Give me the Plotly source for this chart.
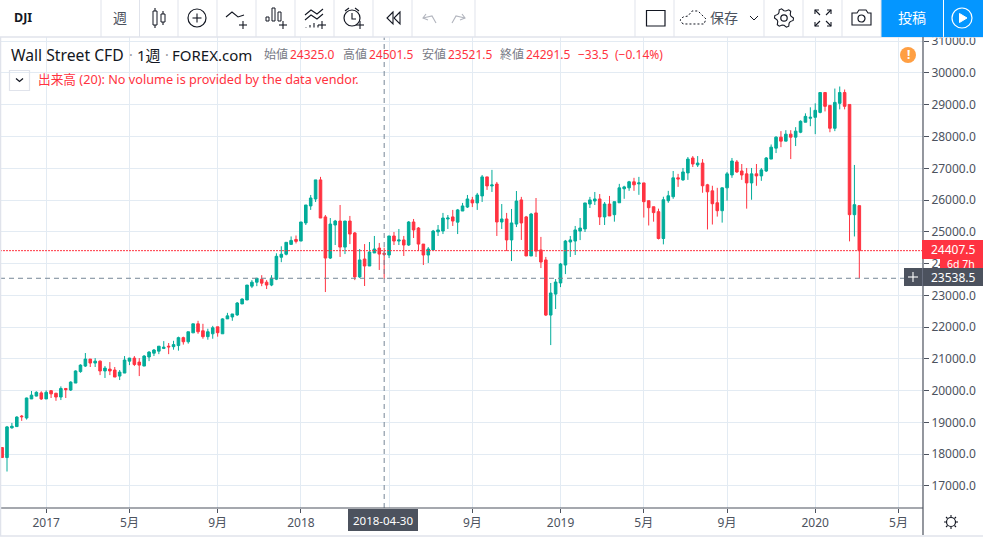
"""Weekly DJI CFD candles in a TradingView-like frame."""

import math

import pandas as pd
import plotly.graph_objects as go

W, H = 983, 541
PLOT_RIGHT, PLOT_TOP, PLOT_BOTTOM = 923, 37, 508

GREEN = "#02ac9a"
RED = "#ff3341"
TEXT = "#4c525e"
GRID = "#e3ebf3"
EDGE = "#e0e3eb"
DARK = "#4c525e"
BLUE = "#0496ff"

FIRST_WEEK = "2016-10-31"

opens = [
    18210, 17895, 18830, 18870, 19200, 19140, 19740, 19830, 19930, 19740,
    20000, 19920, 19800, 20070, 20020, 20240, 20600, 20775, 20995, 20870,
    20930, 20620, 20680, 20650, 20460, 20555, 20930, 21025, 20900, 20775,
    21060, 21180, 21245, 21330, 21400, 21385, 21420, 21670, 21540, 21820,
    22105, 21885, 21700, 21790, 22010, 21790, 22260, 22320, 22385, 22730,
    22855, 23290, 23415, 23510, 23415, 23325, 23510, 24200, 24295, 24605,
    24760, 24710, 25280, 25815, 26035, 26635, 25470, 24175, 25215, 25340,
    24520, 25340, 24965, 23580, 24145, 23925, 24335, 24490, 24325, 24270,
    24870, 24710, 24745, 24585, 25310, 25120, 24615, 24270, 24430, 25000,
    25025, 25405, 25470, 25305, 25655, 25780, 26005, 25910, 26130, 26730,
    26445, 26505, 25310, 25405, 24745, 25245, 26005, 25470, 24240, 25595,
    24430, 24115, 22380, 23040, 23390, 23955, 24680, 24710, 25025, 25090,
    25875, 25970, 26035, 25470, 25875, 25540, 25915, 26355, 26385, 26575,
    26510, 26540, 25980, 25790, 25635, 24790, 25980, 26105, 26700, 26635,
    26855, 27325, 27105, 27165, 26480, 26290, 25915, 25665, 26385, 26790,
    27200, 26915, 26825, 26540, 26825, 26760, 26915, 27290, 27635, 27980,
    27855, 28075, 27980, 28135, 28450, 28575, 28605, 28760, 29385, 28980,
    28260, 29045, 29385, 29010, 25540, 25825,
]
highs = [
    18210, 18890, 18985, 19195, 19235, 19780, 19990, 19980, 19980, 20010,
    20020, 19930, 20135, 20070, 20295, 20640, 20830, 21185, 20995, 21025,
    20950, 20775, 20900, 20745, 20650, 21090, 21035, 21090, 21025, 21120,
    21245, 21310, 21400, 21560, 21500, 21570, 21700, 21700, 21855, 22105,
    22200, 22105, 21950, 22040, 22010, 22280, 22450, 22415, 22790, 22905,
    23325, 23480, 23540, 23635, 23480, 23635, 24325, 24545, 24670, 24855,
    24885, 25310, 25845, 26160, 26635, 26730, 25530, 25435, 25375, 25845,
    25340, 25500, 24995, 24460, 24615, 24680, 24870, 24650, 24501.5, 24870,
    24995, 25090, 24870, 25340, 25405, 25150, 24615, 24520, 25060, 25215,
    25595, 25530, 25690, 25720, 25910, 26160, 26100, 26225, 26790, 26730,
    26950, 26570, 25875, 25595, 25720, 26285, 26100, 25500, 25595, 26065,
    24840, 24210, 23390, 23515, 24020, 24745, 24870, 25185, 25435, 25910,
    26100, 26255, 26190, 25940, 26130, 25950, 26510, 26450, 26605, 26700,
    26730, 26540, 25980, 25790, 25730, 26105, 26290, 26915, 26825, 27010,
    27355, 27385, 27385, 27290, 26510, 26450, 26385, 26400, 26885, 27325,
    27260, 27135, 27010, 27010, 27135, 27010, 27355, 27750, 28010, 28170,
    28200, 28200, 28295, 28510, 28730, 28920, 29045, 29385, 29385, 28980,
    29510, 29575, 29480, 29010, 27105, 25825,
]
lows = [
    17895, 17455, 18805, 18860, 19050, 19090, 19740, 19820, 19710, 19740,
    19770, 19680, 19705, 19770, 19990, 20240, 20565, 20745, 20745, 20745,
    20490, 20400, 20490, 20430, 20335, 20555, 20805, 20775, 20460, 20775,
    20930, 21090, 21150, 21310, 21150, 21290, 21260, 21450, 21480, 21820,
    21790, 21635, 21605, 21635, 21700, 21790, 22260, 22200, 22355, 22730,
    22855, 23230, 23290, 23290, 23200, 23290, 23480, 24045, 24260, 24605,
    24635, 24710, 25215, 25690, 25940, 25435, 23105, 24145, 24585, 24210,
    24300, 24615, 23480, 23545, 23295, 23925, 24335, 23800, 23521.5, 24175,
    24585, 24585, 24240, 24555, 24805, 24395, 23955, 24020, 24430, 24870,
    24930, 25090, 25185, 24930, 25655, 25750, 25780, 25690, 25940, 26320,
    26255, 24870, 25090, 24395, 24080, 25150, 24745, 24240, 24240, 24210,
    23860, 22350, 21435, 22570, 23260, 23670, 24210, 24270, 24740, 24995,
    25750, 25845, 25215, 25215, 25500, 25320, 25915, 26040, 26290, 26290,
    26165, 25450, 25200, 25320, 24760, 24605, 25915, 26040, 26415, 26605,
    26635, 27040, 27040, 26230, 25075, 25230, 25480, 25290, 25980, 26700,
    26855, 26635, 25730, 26010, 26450, 26605, 26885, 27290, 27480, 27665,
    27855, 27290, 27700, 28105, 28450, 28325, 28075, 28730, 28790, 28135,
    28170, 28855, 28855, 24700, 24855, 23538.5,
]
closes = [
    17895, 18860, 18880, 19170, 19180, 19770, 19860, 19950, 19740, 19950,
    19900, 19800, 20070, 20030, 20270, 20620, 20805, 20995, 20870, 20930,
    20620, 20710, 20620, 20430, 20585, 20965, 21025, 20825, 20805, 21090,
    21215, 21280, 21400, 21370, 21380, 21450, 21670, 21540, 21855, 22105,
    21855, 21700, 21855, 21980, 21825, 22260, 22355, 22415, 22760, 22885,
    23325, 23415, 23540, 23385, 23325, 23540, 24230, 24295, 24670, 24730,
    24700, 25310, 25845, 26065, 26635, 25435, 24175, 25245, 25340, 24520,
    25340, 24930, 23580, 24115, 23925, 24365, 24460, 24300, 24291.5, 24870,
    24710, 24745, 24585, 25310, 25060, 24615, 24270, 24460, 25025, 25060,
    25435, 25435, 25340, 25690, 25815, 26035, 25910, 26160, 26730, 26445,
    26475, 25310, 25405, 24745, 25280, 25970, 25280, 24240, 25560, 24395,
    24050, 22380, 23075, 23420, 23985, 24710, 24745, 25060, 25120, 25910,
    26005, 26035, 25470, 25875, 25500, 25950, 26385, 26415, 26575, 26480,
    26540, 25950, 25760, 25605, 24790, 26010, 26135, 26700, 26665, 26885,
    27290, 27135, 27165, 26450, 26260, 25885, 25665, 26385, 26825, 27230,
    26885, 26790, 26540, 26825, 26760, 26950, 27325, 27665, 27980, 27855,
    28075, 27980, 28170, 28480, 28635, 28605, 28825, 29385, 28950, 28260,
    29075, 29385, 28950, 25540, 25855, 24407.5,
]

price_ticks = list(range(17000, 32000, 1000))
date_ticks = ["2017-01-02", "2017-05-01", "2017-09-04", "2018-01-01", "2018-05-07", "2018-09-03",
              "2019-01-07", "2019-05-06", "2019-09-02", "2020-01-06", "2020-05-04"]
# the May 2018 label sits under the crosshair date box
date_labels = ["2017", "5月", "9月", "2018", "", "9月", "2019", "5月", "9月", "2020", "5月"]

LAST_PRICE = 24407.5
CROSS_PRICE = 23538.5
CROSS_DATE = "2018-04-30"

weeks = pd.date_range(FIRST_WEEK, periods=len(opens), freq="7D")


# page pixels -> paper fractions
def fx(x):
    return x / W


def fy(y):
    return 1 - y / H


def rect(x0, y0, x1, y1, fill=None, line=None, width=1, dash=None):
    return dict(type="rect", xref="paper", yref="paper", x0=fx(x0), x1=fx(x1), y0=fy(y0), y1=fy(y1),
                fillcolor=fill, line=dict(color=line, width=width if line else 0, dash=dash), layer="above")


def circle(cx, cy, r, fill=None, line=TEXT, width=1.2):
    return dict(type="circle", xref="paper", yref="paper", x0=fx(cx - r), x1=fx(cx + r),
                y0=fy(cy - r), y1=fy(cy + r), fillcolor=fill,
                line=dict(color=line, width=width if line else 0), layer="above")


def poly(points, color="#131722", width=1.1, close=False, fill=None, dash=None):
    d = "M" + " L".join(f"{fx(x):.5f},{fy(y):.5f}" for x, y in points)
    if close:
        d += " Z"
    return dict(type="path", xref="paper", yref="paper", path=d, fillcolor=fill,
                line=dict(color=color, width=width, dash=dash), layer="above")


def plus(cx, cy, r=4, color="#131722"):
    return [poly([(cx - r, cy), (cx + r, cy)], color), poly([(cx, cy - r), (cx, cy + r)], color)]


def gear(cx, cy, outer=9.5, inner=7.2, teeth=6):
    pts = []
    for i in range(teeth * 4):
        r = outer if i % 4 in (0, 1) else inner
        a = 2 * math.pi * i / (teeth * 4)
        pts.append((cx + r * math.cos(a), cy + r * math.sin(a)))
    return poly(pts, close=True)


def label(x, y, text, color=TEXT, size=12, anchor="left", bold=False):
    if bold:
        text = f"<b>{text}</b>"
    return dict(xref="paper", yref="paper", x=fx(x), y=fy(y), text=text, showarrow=False,
                xanchor=anchor, yanchor="middle", xshift=0, borderpad=0,
                font=dict(color=color, size=size))


fig = go.Figure(go.Candlestick(
    x=weeks, open=opens, high=highs, low=lows, close=closes,
    increasing=dict(line=dict(color=GREEN, width=1), fillcolor=GREEN),
    decreasing=dict(line=dict(color=RED, width=1), fillcolor=RED),
    whiskerwidth=0, showlegend=False, hoverinfo="skip",
))

shapes = [
    # price and crosshair lines
    dict(type="line", xref="paper", yref="y", x0=0, x1=fx(PLOT_RIGHT), y0=LAST_PRICE, y1=LAST_PRICE,
         line=dict(color=RED, width=1, dash="2px,1px")),
    dict(type="line", xref="paper", yref="y", x0=0, x1=fx(PLOT_RIGHT), y0=CROSS_PRICE, y1=CROSS_PRICE,
         line=dict(color="#758696", width=1, dash="5px,4px")),
    dict(type="line", xref="x", yref="paper", x0=CROSS_DATE, x1=CROSS_DATE, y0=fy(PLOT_BOTTOM), y1=fy(PLOT_TOP),
         line=dict(color="#758696", width=1, dash="5px,4px")),
    # frame
    rect(0, 0, W, PLOT_TOP, fill="white"),
    poly([(0, 37), (W, 37)], EDGE, 1.5),
    poly([(0, PLOT_BOTTOM), (PLOT_RIGHT, PLOT_BOTTOM)], TEXT, 1.2),
    poly([(PLOT_RIGHT, PLOT_TOP), (PLOT_RIGHT, 535)], TEXT, 1.2),
    poly([(0, 536), (W, 536)], EDGE, 1.5),
    poly([(0.5, 37), (0.5, 536)], EDGE, 1.5),
    # price labels
    rect(922, 240, W, 259, fill=RED),
    rect(940, 259, W, 270, fill=RED),
    rect(904, 268, W, 286, fill=DARK),
    poly([(922.5, 268), (922.5, 286)], "#6a7080", 1),
    *plus(913, 277, 5, "white"),
    # date label
    rect(348, 509, 418, 531, fill=DARK),
    # toolbar blue buttons
    rect(881, 0, 943, 37, fill=BLUE),
    rect(944, 0, W, 37, fill=BLUE),
    circle(962, 18, 10, line="white"),
    poly([(959.5, 13.5), (959.5, 22.5), (967, 18)], "white", 1, close=True, fill="white"),
    # header widgets
    rect(9.5, 70.5, 29.5, 90.5, line=EDGE, width=1.2),
    poly([(16, 78.5), (19.5, 81.5), (23, 78.5)], "#131722", 1.3),
    circle(908, 55, 8, fill="#ff9f43", line=None),
    # chart type icon
    rect(153, 11, 157, 25, line="#131722"),
    poly([(155, 8), (155, 11)]), poly([(155, 25), (155, 28)]),
    rect(161, 14, 165, 22, line="#131722"),
    poly([(163, 11), (163, 14)]), poly([(163, 22), (163, 25)]),
    # add compare
    circle(197, 18, 9, line="#131722"),
    *plus(197, 18, 4.5),
    # add line indicator
    poly([(226, 17), (232, 12), (238, 17), (244, 15)]),
    *plus(243, 25),
    # bars plus
    rect(266, 17, 269, 21, line="#131722"),
    rect(272, 8, 275, 21, line="#131722"),
    rect(278, 12, 281, 21, line="#131722"),
    *plus(283, 25),
    # waves plus
    poly([(305, 15), (311, 10), (317, 14), (323, 9)]),
    poly([(305, 20), (311, 15), (317, 19), (323, 14)]),
    poly([(306, 27), (306, 27.5)]), poly([(310, 25), (310, 27.5)]), poly([(314, 23), (314, 27.5)]),
    poly([(318, 25), (318, 27.5)]),
    *plus(322, 25),
    # alarm
    circle(352, 18, 8, line="#131722"),
    poly([(352, 13), (352, 19), (356, 19)]),
    poly([(345, 11), (349, 8)]), poly([(359, 11), (355, 8)]),
    *plus(360, 25, 4),
    # rewind
    poly([(393, 12), (387, 18), (393, 24)], close=True),
    poly([(400, 12), (394, 18), (400, 24)], close=True),
    # undo and redo
    poly([(426, 14), (423, 18), (428, 20)], "#b2b5be"),
    poly([(423, 18), (432, 16), (436, 23)], "#b2b5be"),
    poly([(462, 14), (465, 18), (460, 20)], "#b2b5be"),
    poly([(465, 18), (456, 16), (452, 23)], "#b2b5be"),
    # layout square
    rect(646.5, 10.5, 665, 26, line="#131722", width=1.2),
    # save cloud
    poly([(683, 24), (680, 20), (683, 17), (688, 16), (692, 11), (698, 11), (702, 15), (706, 19), (704, 24), (683, 24)],
         "#131722", 1, dash="2px,2px"),
    poly([(750, 16), (754, 20), (758, 16)], "#131722", 1),
    # settings
    circle(784, 18, 3.2, line="#131722"),
    gear(784, 18),
    # fullscreen
    poly([(815, 14), (815, 10), (819, 10)]), poly([(827, 10), (831, 10), (831, 14)]),
    poly([(815, 22), (815, 26), (819, 26)]), poly([(827, 26), (831, 26), (831, 22)]),
    poly([(815, 10), (820, 15)]), poly([(831, 10), (826, 15)]),
    poly([(815, 26), (820, 21)]), poly([(831, 26), (826, 21)]),
    # camera
    poly([(852, 13), (857, 13), (859, 10), (866, 10), (868, 13), (871, 13), (871, 25), (852, 25)], close=True),
    circle(861.5, 18.5, 3.5, line="#131722"),
    # bottom settings
    circle(951, 522, 4.5, line="#131722"),
    poly([(951, 515), (951, 517)]), poly([(951, 527), (951, 529)]),
    poly([(944, 522), (946, 522)]), poly([(956, 522), (958, 522)]),
    poly([(946, 517), (947.5, 518.5)]), poly([(956, 517), (954.5, 518.5)]),
    poly([(946, 527), (947.5, 525.5)]), poly([(956, 527), (954.5, 525.5)]),
]
# toolbar separators
for sep_x in [101, 139.5, 178, 217, 256, 295, 334, 373, 412, 475, 635, 674, 764, 803, 842, 881]:
    shapes.append(poly([(sep_x, 0), (sep_x, 37)], EDGE, 1))

annotations = [
    label(13, 18, "DJI", "#131722", 12.5, bold=True),
    label(120, 18, "週", TEXT, 14, "center"),
    label(724, 18, "保存", TEXT, 14, "center"),
    label(912, 18, "投稿", "white", 14, "center"),
    label(10, 55, "Wall Street CFD", "#131722", 15.7),
    label(128, 55, "·", "#9598a1", 14),
    label(136, 55, "1週", "#131722", 15),
    label(164, 55, "·", "#9598a1", 14),
    label(171, 55, "FOREX.com", "#131722", 15),
    label(263, 55, "始値", "#787b86", 12),
    label(289, 55, "24325.0", RED, 12),
    label(342, 55, "高値", "#787b86", 12),
    label(368, 55, "24501.5", RED, 12),
    label(421, 55, "安値", "#787b86", 12),
    label(447, 55, "23521.5", RED, 12),
    label(499, 55, "終値", "#787b86", 12),
    label(525, 55, "24291.5", RED, 12),
    label(577, 55, "−33.5", RED, 12),
    label(614, 55, "(−0.14%)", RED, 12),
    label(37, 79, "出来高 (20): No volume is provided by the data vendor.", RED, 12.7),
    label(908, 55, "<b>!</b>", "white", 12, "center"),
    label(953, 249.5, "24407.5", "white", 12, "center"),
    label(961, 264, "6d 7h", "white", 10.5, "center"),
    label(953, 277, "23538.5", "white", 12, "center"),
    label(383, 520, "2018-04-30", "white", 11.5, "center"),
]

fig.update_layout(
    width=W, height=H,
    margin=dict(l=0, r=0, t=0, b=0, autoexpand=False),
    paper_bgcolor="white", plot_bgcolor="white",
    font=dict(family="Noto Sans, Noto Sans CJK JP, sans-serif", color=TEXT, size=12),
    boxgap=0.25,
    showlegend=False,
    dragmode=False,
    shapes=shapes,
    annotations=annotations,
    xaxis=dict(
        domain=[0, PLOT_RIGHT / W],
        range=["2016-10-28", "2020-06-08"],
        rangeslider=dict(visible=False),
        tickmode="array", tickvals=date_ticks, ticktext=date_labels,
        ticks="outside", ticklen=4, tickcolor=TEXT, tickfont=dict(size=12, color=TEXT),
        showgrid=True, gridcolor=GRID, gridwidth=1, zeroline=False,
    ),
    yaxis=dict(
        domain=[1 - PLOT_BOTTOM / H, 1 - PLOT_TOP / H],
        side="right",
        range=[16307, 31133],
        tickmode="array", tickvals=price_ticks, tickformat=".1f",
        ticks="outside", ticklen=5, tickcolor=TEXT, tickfont=dict(size=12, color=TEXT),
        showgrid=True, gridcolor=GRID, gridwidth=1, zeroline=False,
    ),
)

fig.write_html("out.html", config={"displayModeBar": False},
               post_script="document.body.style.margin='0';")
